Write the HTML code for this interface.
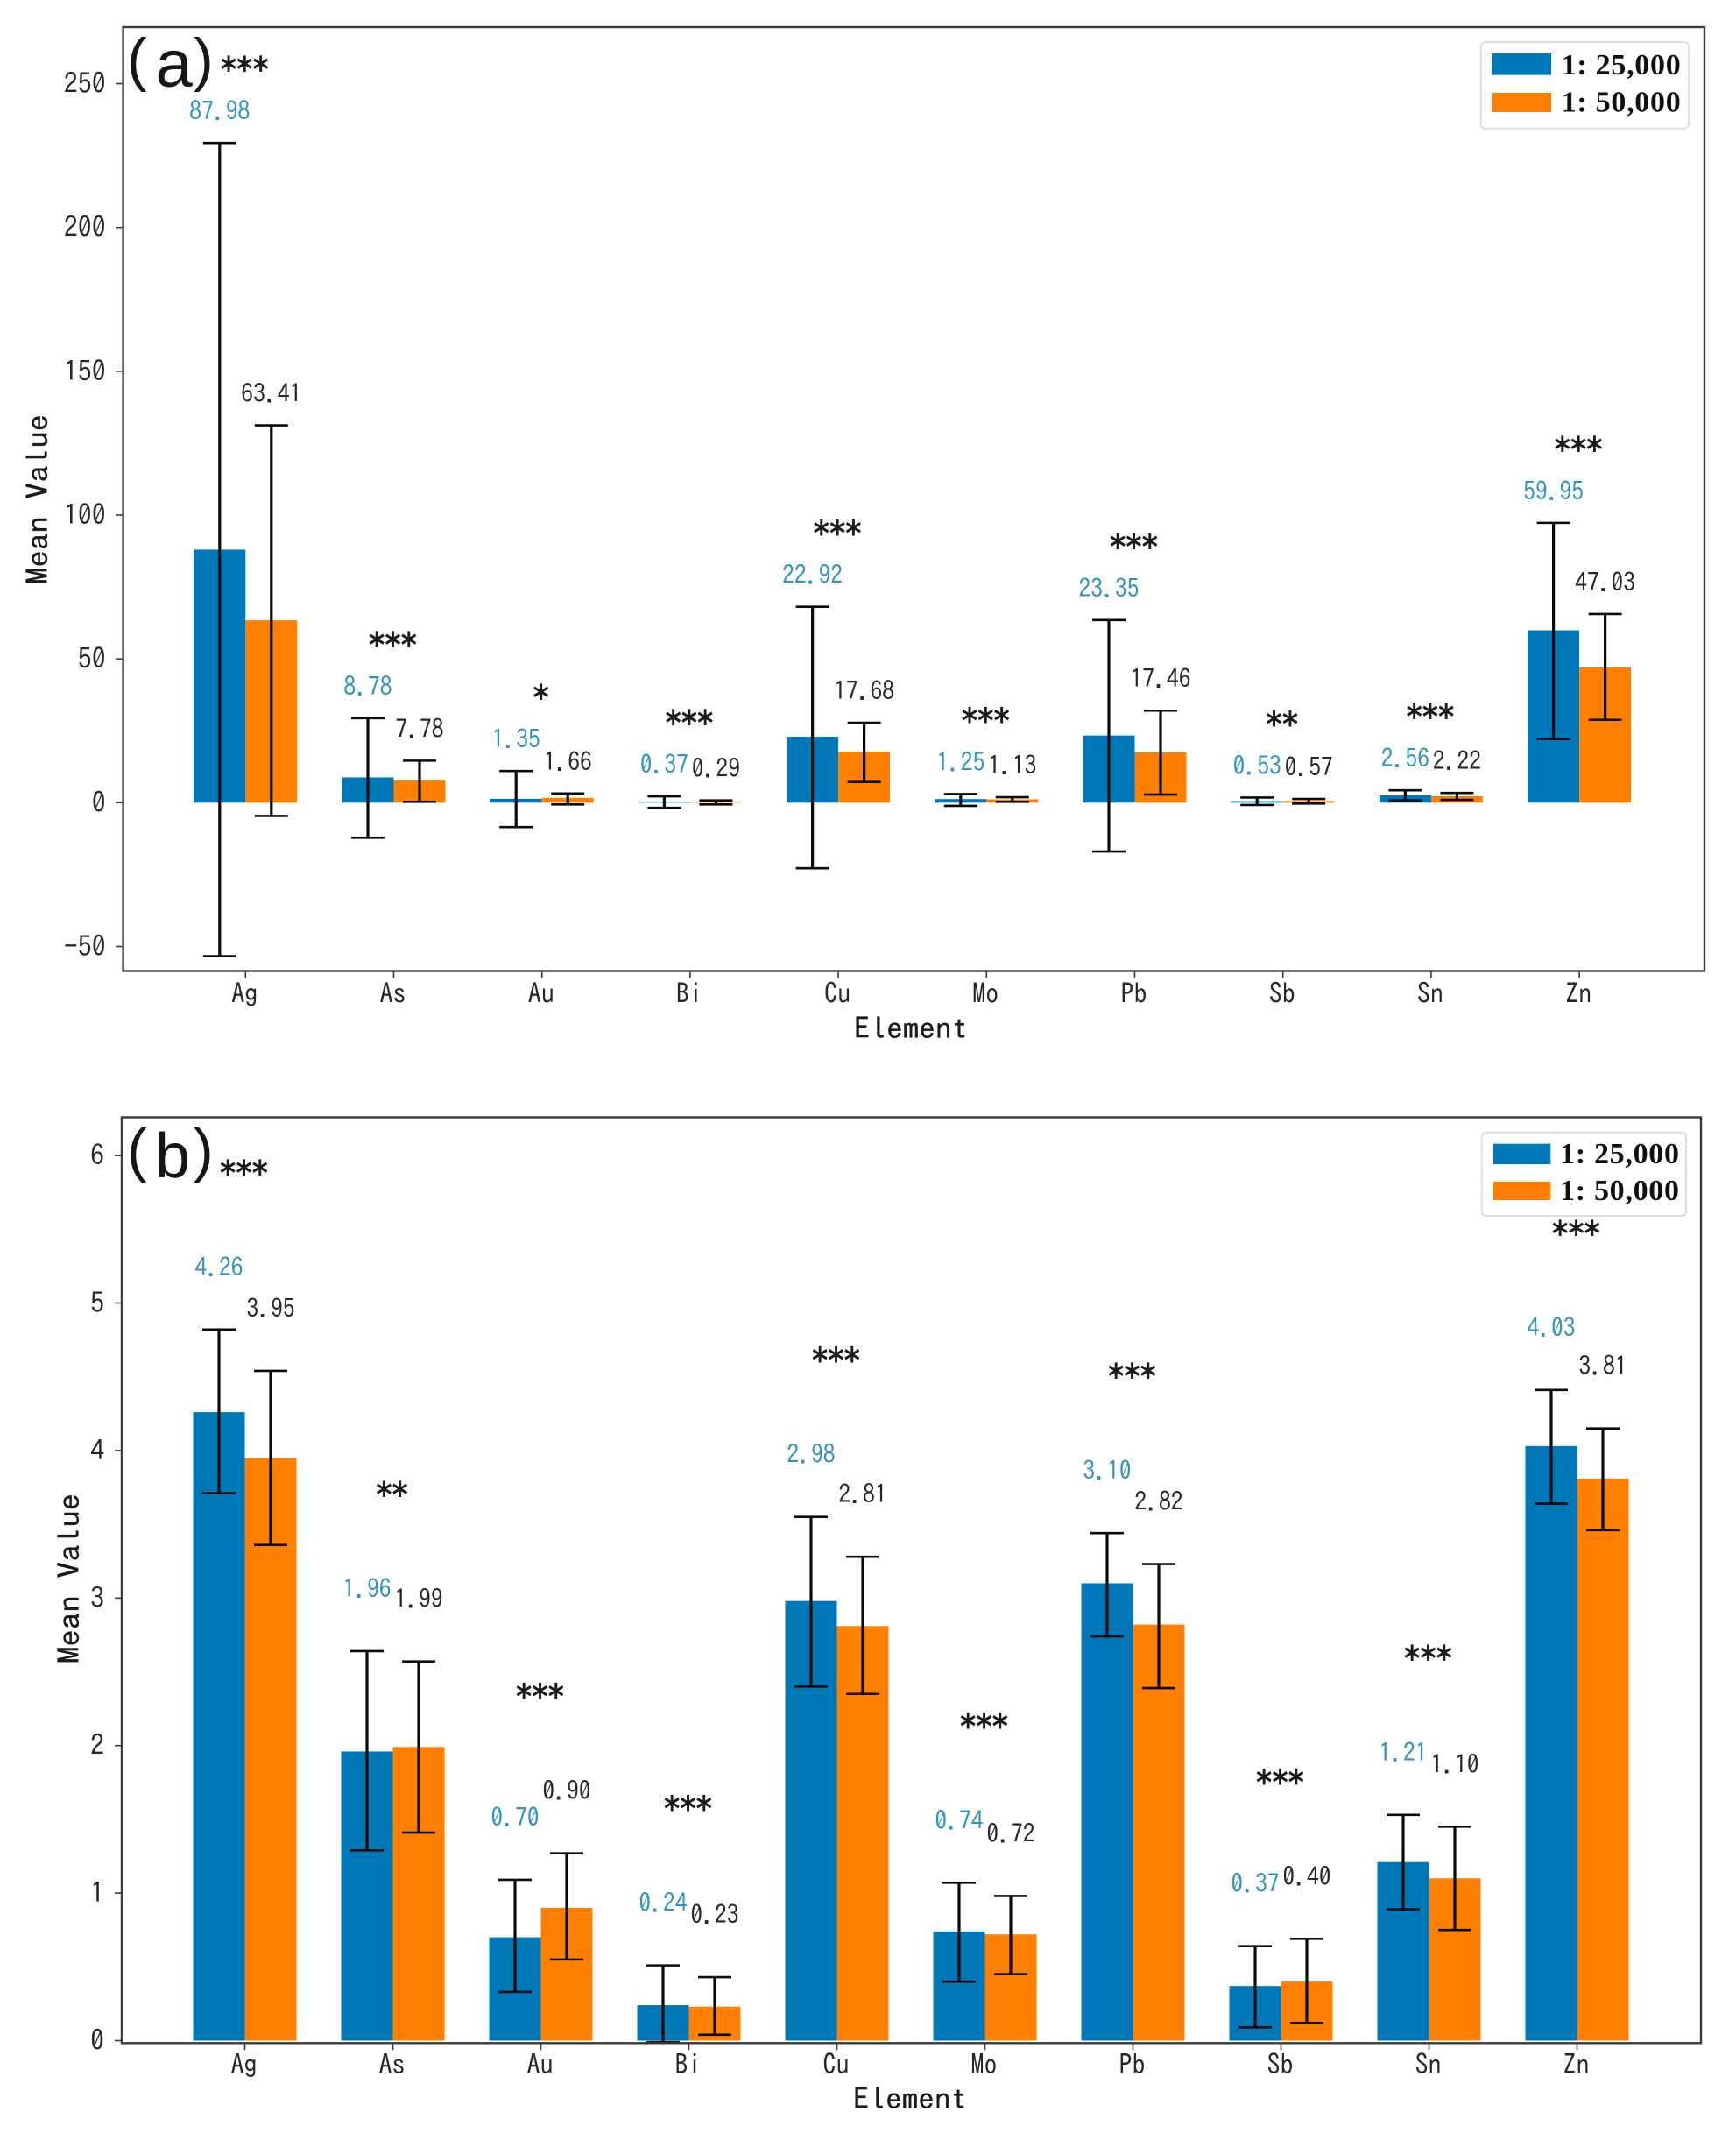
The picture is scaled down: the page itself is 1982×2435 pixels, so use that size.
<!DOCTYPE html>
<html lang="en">
<head>
<meta charset="utf-8">
<title>Mean element values by map scale</title>
<style>
html,body{margin:0;padding:0;background:#fff}
svg{display:block}
</style>
</head>
<body>
<svg id="figure" xmlns="http://www.w3.org/2000/svg" width="1982" height="2435" viewBox="0 0 1982 2435"></svg>
<script>
const elements = ['Ag','As','Au','Bi','Cu','Mo','Pb','Sb','Sn','Zn'];

const panelAMean25 = [87.98,8.78,1.35,0.37,22.92,1.25,23.35,0.53,2.56,59.95];
const panelAMean50 = [63.41,7.78,1.66,0.29,17.68,1.13,17.46,0.57,2.22,47.03];
const panelAUpper25 = [229.4,29.4,11,2.2,68.1,3,63.5,1.8,4.3,97.3];
const panelALower25 = [-53.4,-12.2,-8.5,-1.8,-22.8,-1.1,-17,-0.8,0.8,22.1];
const panelAUpper50 = [131.2,14.6,3.2,0.8,27.8,1.9,32,1.3,3.4,65.6];
const panelALower50 = [-4.6,0.3,-0.6,-0.6,7.2,0.3,2.8,-0.3,1,28.8];
const panelASignificance = ['***','***','*','***','***','***','***','**','***','***'];
const panelATicks = [-50,0,50,100,150,200,250];

const panelBMean25 = [4.26,1.96,0.70,0.24,2.98,0.74,3.10,0.37,1.21,4.03];
const panelBMean50 = [3.95,1.99,0.90,0.23,2.81,0.72,2.82,0.40,1.10,3.81];
const panelBUpper25 = [4.82,2.64,1.09,0.51,3.55,1.07,3.44,0.64,1.53,4.41];
const panelBLower25 = [3.71,1.29,0.33,-0.01,2.40,0.40,2.74,0.09,0.89,3.64];
const panelBUpper50 = [4.54,2.57,1.27,0.43,3.28,0.98,3.23,0.69,1.45,4.15];
const panelBLower50 = [3.36,1.41,0.55,0.04,2.35,0.45,2.39,0.12,0.75,3.46];
const panelBSignificance = ['***','**','***','***','***','***','***','***','***','***'];
const panelBTicks = [0,1,2,3,4,5,6];

const legendLabels = ['1: 25,000','1: 50,000'];

const BLUE = '#0077b6';
const ORANGE = '#ff7f00';
const HEI = '"IPAGothic","Noto Sans CJK SC",monospace';
const SVGNS = 'http://www.w3.org/2000/svg';
const root = document.getElementById('figure');

function add(parent, tag, attrs, name, interactable, text) {
  const el = document.createElementNS(SVGNS, tag);
  for (const k in attrs) el.setAttribute(k, attrs[k]);
  
  
  if (text !== undefined) el.textContent = text;
  parent.appendChild(el);
  return el;
}

function drawPanel(cfg) {
  const g = add(root, 'g', {}, 'panel-' + cfg.id, false);
  const xScale = i => cfg.x0 + i * cfg.xStep;
  const yScale = v => cfg.y0 - v * cfg.yUnit;
  const barW = 59;
  const capHalf = 19;

  const bars = add(g, 'g', {}, 'bars', false);
  const errs = add(g, 'g', {}, 'error-bars', false);
  const labs = add(g, 'g', {}, 'value-labels', false);
  const stars = add(g, 'g', {}, 'significance-markers', false);

  elements.forEach((el, i) => {
    const xc = xScale(i);
    [[cfg.mean25, cfg.up25, cfg.lo25, BLUE, -1, '#2a94c4', '25k'],
     [cfg.mean50, cfg.up50, cfg.lo50, ORANGE, 0, '#262626', '50k']].forEach(s => {
      const mean = s[0][i], up = s[1][i], lo = s[2][i];
      const bx = xc + s[4] * barW;
      const cx = bx + barW / 2;
      const y = yScale(mean);
      add(bars, 'rect', {x: bx, y: y, width: barW, height: Math.max(yScale(0) - y, 0), fill: s[3]},
        'bar-' + el.toLowerCase() + '-' + s[6], false);
      const eg = add(errs, 'g', {stroke: '#0a0a0a', fill: 'none'}, 'error-bar-' + el.toLowerCase() + '-' + s[6], false);
      add(eg, 'line', {x1: cx, x2: cx, y1: yScale(up), y2: yScale(lo), 'stroke-width': 3.2}, 'error-stem', false);
      add(eg, 'line', {x1: cx - capHalf, x2: cx + capHalf, y1: yScale(up), y2: yScale(up), 'stroke-width': 2.6}, 'error-cap-upper', false);
      add(eg, 'line', {x1: cx - capHalf, x2: cx + capHalf, y1: yScale(lo), y2: yScale(lo), 'stroke-width': 2.6}, 'error-cap-lower', false);
      const valueText = mean.toFixed(2);
      add(labs, 'text', {x: cx, y: yScale(up) - cfg.labelGap, 'text-anchor': 'middle', 'font-family': HEI, 'font-size': 29, fill: s[5], textLength: valueText.length * 13.8, lengthAdjust: 'spacingAndGlyphs'},
        'value-label-' + el.toLowerCase() + '-' + s[6], false, valueText);
    });
    const top = Math.max(cfg.up25[i], cfg.up50[i]);
    add(stars, 'text', {x: xc - 1, y: yScale(top) - cfg.starGap + 17, 'text-anchor': 'middle', 'font-family': '"DejaVu Sans",sans-serif', 'font-weight': 700, 'font-size': 40, fill: '#1a1a1a', textLength: cfg.sig[i].length * 18.3, lengthAdjust: 'spacingAndGlyphs'},
      'significance-' + el.toLowerCase(), false, cfg.sig[i]);
  });

  add(g, 'rect', {x: cfg.left, y: cfg.top, width: cfg.right - cfg.left, height: cfg.bottom - cfg.top, fill: 'none', stroke: '#3a3a3a', 'stroke-width': 2.4}, 'plot-frame', false);

  const yAxis = add(g, 'g', {}, 'y-axis', false);
  cfg.ticks.forEach(t => {
    const y = yScale(t);
    const tickText = String(t).replace('-', '\u2212');
    add(yAxis, 'line', {x1: cfg.left - 8, x2: cfg.left, y1: y, y2: y, stroke: '#3a3a3a', 'stroke-width': 1.6}, 'y-tick', false);
    add(yAxis, 'text', {x: cfg.left - 20, y: y + 11, 'text-anchor': 'end', 'font-family': HEI, 'font-size': 32, fill: '#262626', textLength: tickText.length * 15.9, lengthAdjust: 'spacingAndGlyphs'}, 'y-tick-label', false, tickText);
  });

  const xAxis = add(g, 'g', {}, 'x-axis', false);
  elements.forEach((el, i) => {
    const x = xScale(i);
    add(xAxis, 'line', {x1: x, x2: x, y1: cfg.bottom, y2: cfg.bottom + 8, stroke: '#3a3a3a', 'stroke-width': 1.6}, 'x-tick', false);
    add(xAxis, 'text', {x: x - 1, y: cfg.xTickBase, 'text-anchor': 'middle', 'font-family': HEI, 'font-size': 32, fill: '#262626', textLength: 30, lengthAdjust: 'spacingAndGlyphs'}, 'x-tick-label', false, el);
  });

  add(g, 'text', {x: cfg.xTitleX, y: cfg.xTitleY, 'text-anchor': 'middle', 'font-family': HEI, 'font-size': 34, fill: '#1a1a1a', stroke: '#1a1a1a', 'stroke-width': 0.3, textLength: 130, lengthAdjust: 'spacingAndGlyphs'}, 'x-axis-title', false, 'Element');
  add(g, 'text', {x: 0, y: 0, transform: 'translate(' + cfg.yTitleX + ',' + cfg.yTitleY + ') rotate(-90)', 'text-anchor': 'middle', 'font-family': HEI, 'font-size': 34, fill: '#1a1a1a', stroke: '#1a1a1a', 'stroke-width': 0.3, textLength: 194, lengthAdjust: 'spacingAndGlyphs'}, 'y-axis-title', false, 'Mean Value');

  const tag = add(g, 'g', {'font-family': '"Liberation Sans",sans-serif', fill: '#1a1414'}, 'panel-tag', false);
  add(tag, 'text', {x: 145, y: cfg.parenBase, 'font-size': 68, 'font-weight': 300}, 'panel-tag-open', false, '(');
  add(tag, 'text', {x: cfg.letterX, y: cfg.letterBase, 'font-size': cfg.letterSize}, 'panel-tag-letter', false, cfg.id);
  add(tag, 'text', {x: 221, y: cfg.parenBase, 'font-size': 68, 'font-weight': 300}, 'panel-tag-close', false, ')');

  const leg = add(g, 'g', {}, 'legend', false);
  add(leg, 'rect', {x: cfg.legX, y: cfg.legY, width: cfg.legW, height: cfg.legH, rx: 5, fill: '#fff', stroke: '#dedede', 'stroke-width': 2}, 'legend-frame', false);
  legendLabels.forEach((label, i) => {
    const entry = add(leg, 'g', {}, 'legend-entry-' + (i + 1), true);
    add(entry, 'rect', {x: cfg.swX, y: cfg.swY[i], width: cfg.swW, height: cfg.swH[i], fill: i === 0 ? BLUE : ORANGE}, 'legend-swatch', false);
    add(entry, 'text', {x: cfg.legTextX, y: cfg.legBase[i], 'font-family': '"Liberation Serif",serif', 'font-weight': 700, 'font-size': 34, fill: '#140f0f', textLength: 136, lengthAdjust: 'spacing'}, 'legend-label', false, label);
  });
}

drawPanel({
  id: 'a', left: 140.6, right: 1946, top: 31, bottom: 1108.5,
  x0: 280.3, xStep: 169.2, y0: 916.3, yUnit: 3.283,
  mean25: panelAMean25, mean50: panelAMean50, up25: panelAUpper25, lo25: panelALower25,
  up50: panelAUpper50, lo50: panelALower50, sig: panelASignificance, ticks: panelATicks,
  labelGap: 26, starGap: 87, xTickBase: 1145.5, xTitleX: 1040, xTitleY: 1186,
  yTitleX: 55, yTitleY: 570, parenBase: 91, letterX: 177.5, letterBase: 99, letterSize: 76,
  legX: 1690.7, legY: 48, legW: 237.3, legH: 98.7, swX: 1703, swW: 68, swY: [61,106], swH: [24.7,22],
  legTextX: 1782.7, legBase: [85,127.7]
});

drawPanel({
  id: 'b', left: 139, right: 1942, top: 1275.5, bottom: 2332.3,
  x0: 279.5, xStep: 169, y0: 2329.5, yUnit: 168.4,
  mean25: panelBMean25, mean50: panelBMean50, up25: panelBUpper25, lo25: panelBLower25,
  up50: panelBUpper50, lo50: panelBLower50, sig: panelBSignificance, ticks: panelBTicks,
  labelGap: 61, starGap: 182, xTickBase: 2368, xTitleX: 1039, xTitleY: 2408,
  yTitleX: 91, yTitleY: 1802, parenBase: 1336, letterX: 177, letterBase: 1344, letterSize: 72,
  legX: 1691.7, legY: 1292.7, legW: 233.3, legH: 95.3, swX: 1704.3, swW: 66, swY: [1305.7,1349], swH: [23.3,21],
  legTextX: 1781, legBase: [1328,1370]
});
</script>
</body>
</html>
